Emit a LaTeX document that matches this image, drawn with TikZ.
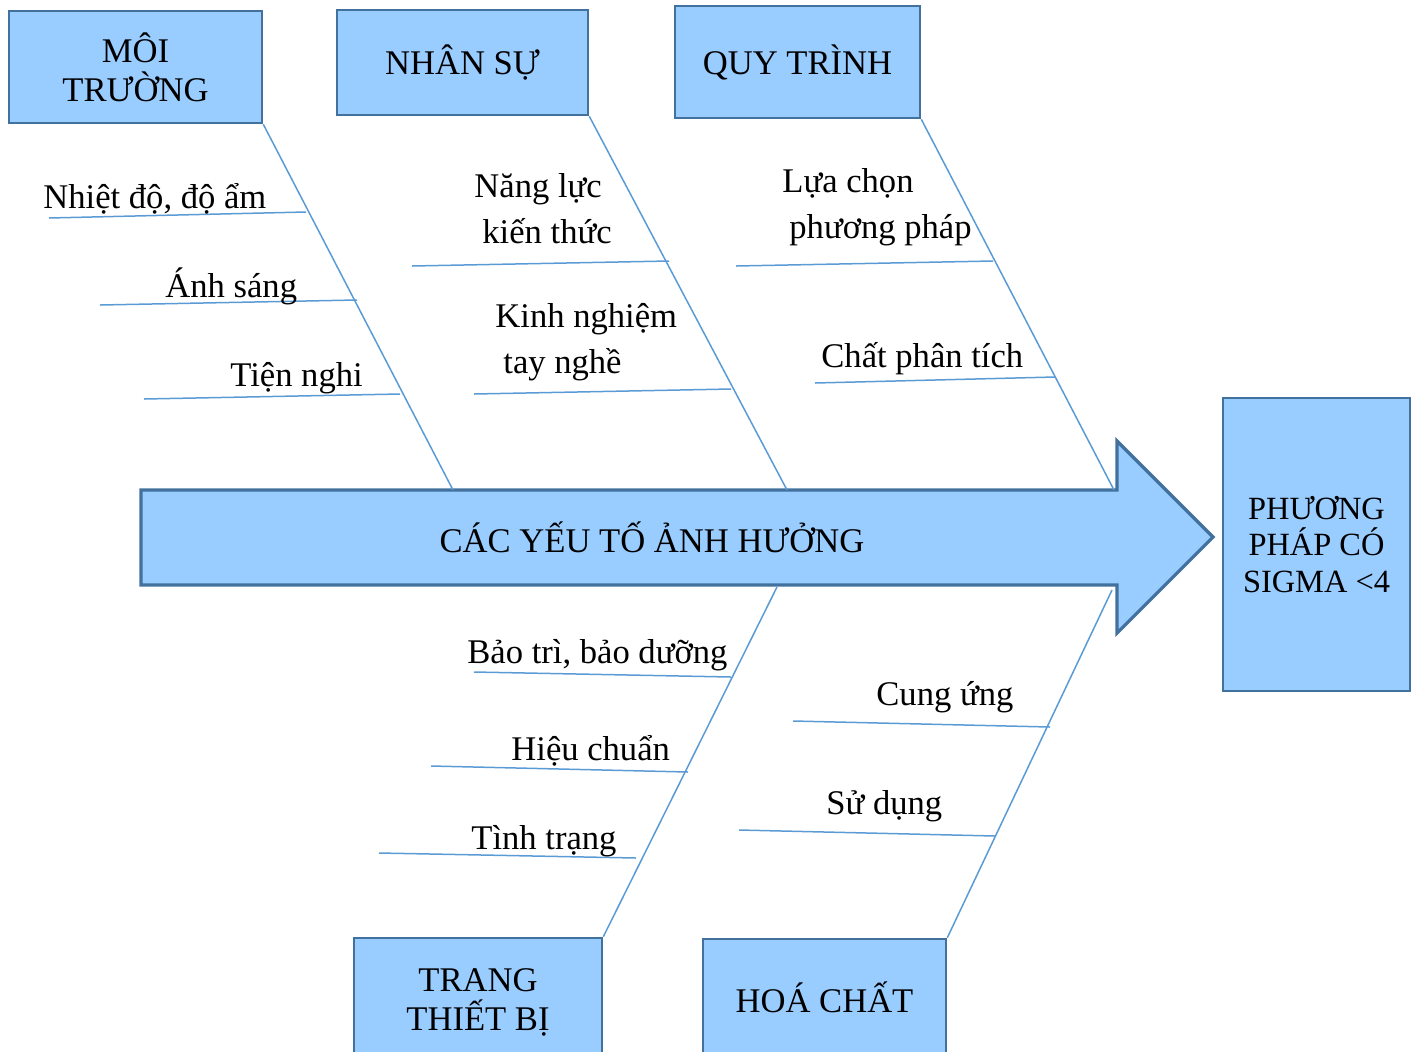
\documentclass[tikz,border=0pt]{standalone}
\usepackage{fontspec}
\setmainfont{Liberation Serif}
\definecolor{boxfill}{RGB}{153,204,255}
\definecolor{boxedge}{RGB}{65,113,156}
\definecolor{bonecol}{RGB}{91,155,213}
\newcommand{\drawbone}{\draw[bonecol, line width=0.75pt]}

\begin{document}
\begin{tikzpicture}[x=0.5pt, y=-0.5pt,
    catbox/.style={draw=boxedge, fill=boxfill, line width=1.3pt, inner sep=0pt,
        align=center, font=\fontsize{17.3}{19.5}\selectfont},
    cause/.style={anchor=base west, inner sep=0pt, align=left,
        font=\fontsize{17.3}{23}\selectfont}]
    \clip (0,0) rectangle (1418,1051);

    % Draw spine
    \draw[boxedge, fill=boxfill, line width=1.6pt] (141,490) -- (1117,490) -- (1117,441)
        -- (1213,537) -- (1117,633) -- (1117,585) -- (141,585) -- cycle;
    \node[font=\fontsize{17.3}{19.5}\selectfont] (spine) at (652,537) {CÁC YẾU TỐ ẢNH HƯỞNG};

    % Draw boxes
    \node[catbox, minimum width=126.5pt, minimum height=56pt] (moi) at (135.5,67) {MÔI\\TRƯỜNG};
    \node[catbox, minimum width=125.5pt, minimum height=52.5pt] (nhansu) at (462.5,62.5) {NHÂN SỰ};
    \node[catbox, minimum width=122.5pt, minimum height=56pt] (quytrinh) at (797.5,62) {QUY TRÌNH};
    \node[catbox, minimum width=124pt, minimum height=64pt] (thietbi) at (478,1002) {TRANG\\THIẾT BỊ};
    \node[catbox, minimum width=121.5pt, minimum height=58pt] (hoachat) at (824.5,997) {HOÁ CHẤT};
    \node[catbox, minimum width=93.5pt, minimum height=146.5pt,
        font=\fontsize{16.2}{18.25}\selectfont] (sigma) at (1316.5,544.5) {PHƯƠNG\\PHÁP CÓ\\SIGMA <4};

    % Draw bones
    \coordinate (moi-end) at (453,490);
    \coordinate (nhansu-end) at (787,490);
    \coordinate (quytrinh-end) at (1114,490);
    \coordinate (thietbi-end) at (777,587);
    \coordinate (hoachat-end) at (1112,590);
    \drawbone (moi.south east) -- (moi-end);
    \drawbone (nhansu.south east) -- (nhansu-end);
    \drawbone (quytrinh.south east) -- (quytrinh-end);
    \drawbone (thietbi-end) -- (thietbi.north east);
    \drawbone (hoachat-end) -- (hoachat.north east);

    % Draw ribs
    \drawbone (49,218) -- (306,212);
    \drawbone (100,305) -- (357,300);
    \drawbone (144,399) -- (400,394);
    \drawbone (412,266) -- (669,261);
    \drawbone (474,394) -- (731,389);
    \drawbone (736,266) -- (993,261);
    \drawbone (815,383) -- (1055,377);
    \drawbone (474,672) -- (731,677);
    \drawbone (431,766) -- (688,772);
    \drawbone (379,853) -- (636,858);
    \drawbone (793,721) -- (1050,727);
    \drawbone (739,830) -- (995,836);

    % Draw causes
    \node[cause] (nhietdo) at (43,208) {Nhiệt độ, độ ẩm};
    \node[cause] (anhsang) at (165,297) {Ánh sáng};
    \node[cause] (tiennghi) at (230,386) {Tiện nghi};
    \node[cause] (nangluc) at (474,243) {Năng lực\\\hspace*{4pt}kiến thức};
    \node[cause] (kinhnghiem) at (495,373) {Kinh nghiệm\\\hspace*{4pt}tay nghề};
    \node[cause] (luachon) at (782,238) {Lựa chọn\\\hspace*{3.5pt}phương pháp};
    \node[cause] (chatpt) at (821,367) {Chất phân tích};
    \node[cause] (baotri) at (467,663) {Bảo trì, bảo dưỡng};
    \node[cause] (hieuchuan) at (511,760) {Hiệu chuẩn};
    \node[cause] (tinhtrang) at (471,849) {Tình trạng};
    \node[cause] (cungung) at (876,705) {Cung ứng};
    \node[cause] (sudung) at (826,814) {Sử dụng};
\end{tikzpicture}
\end{document}
